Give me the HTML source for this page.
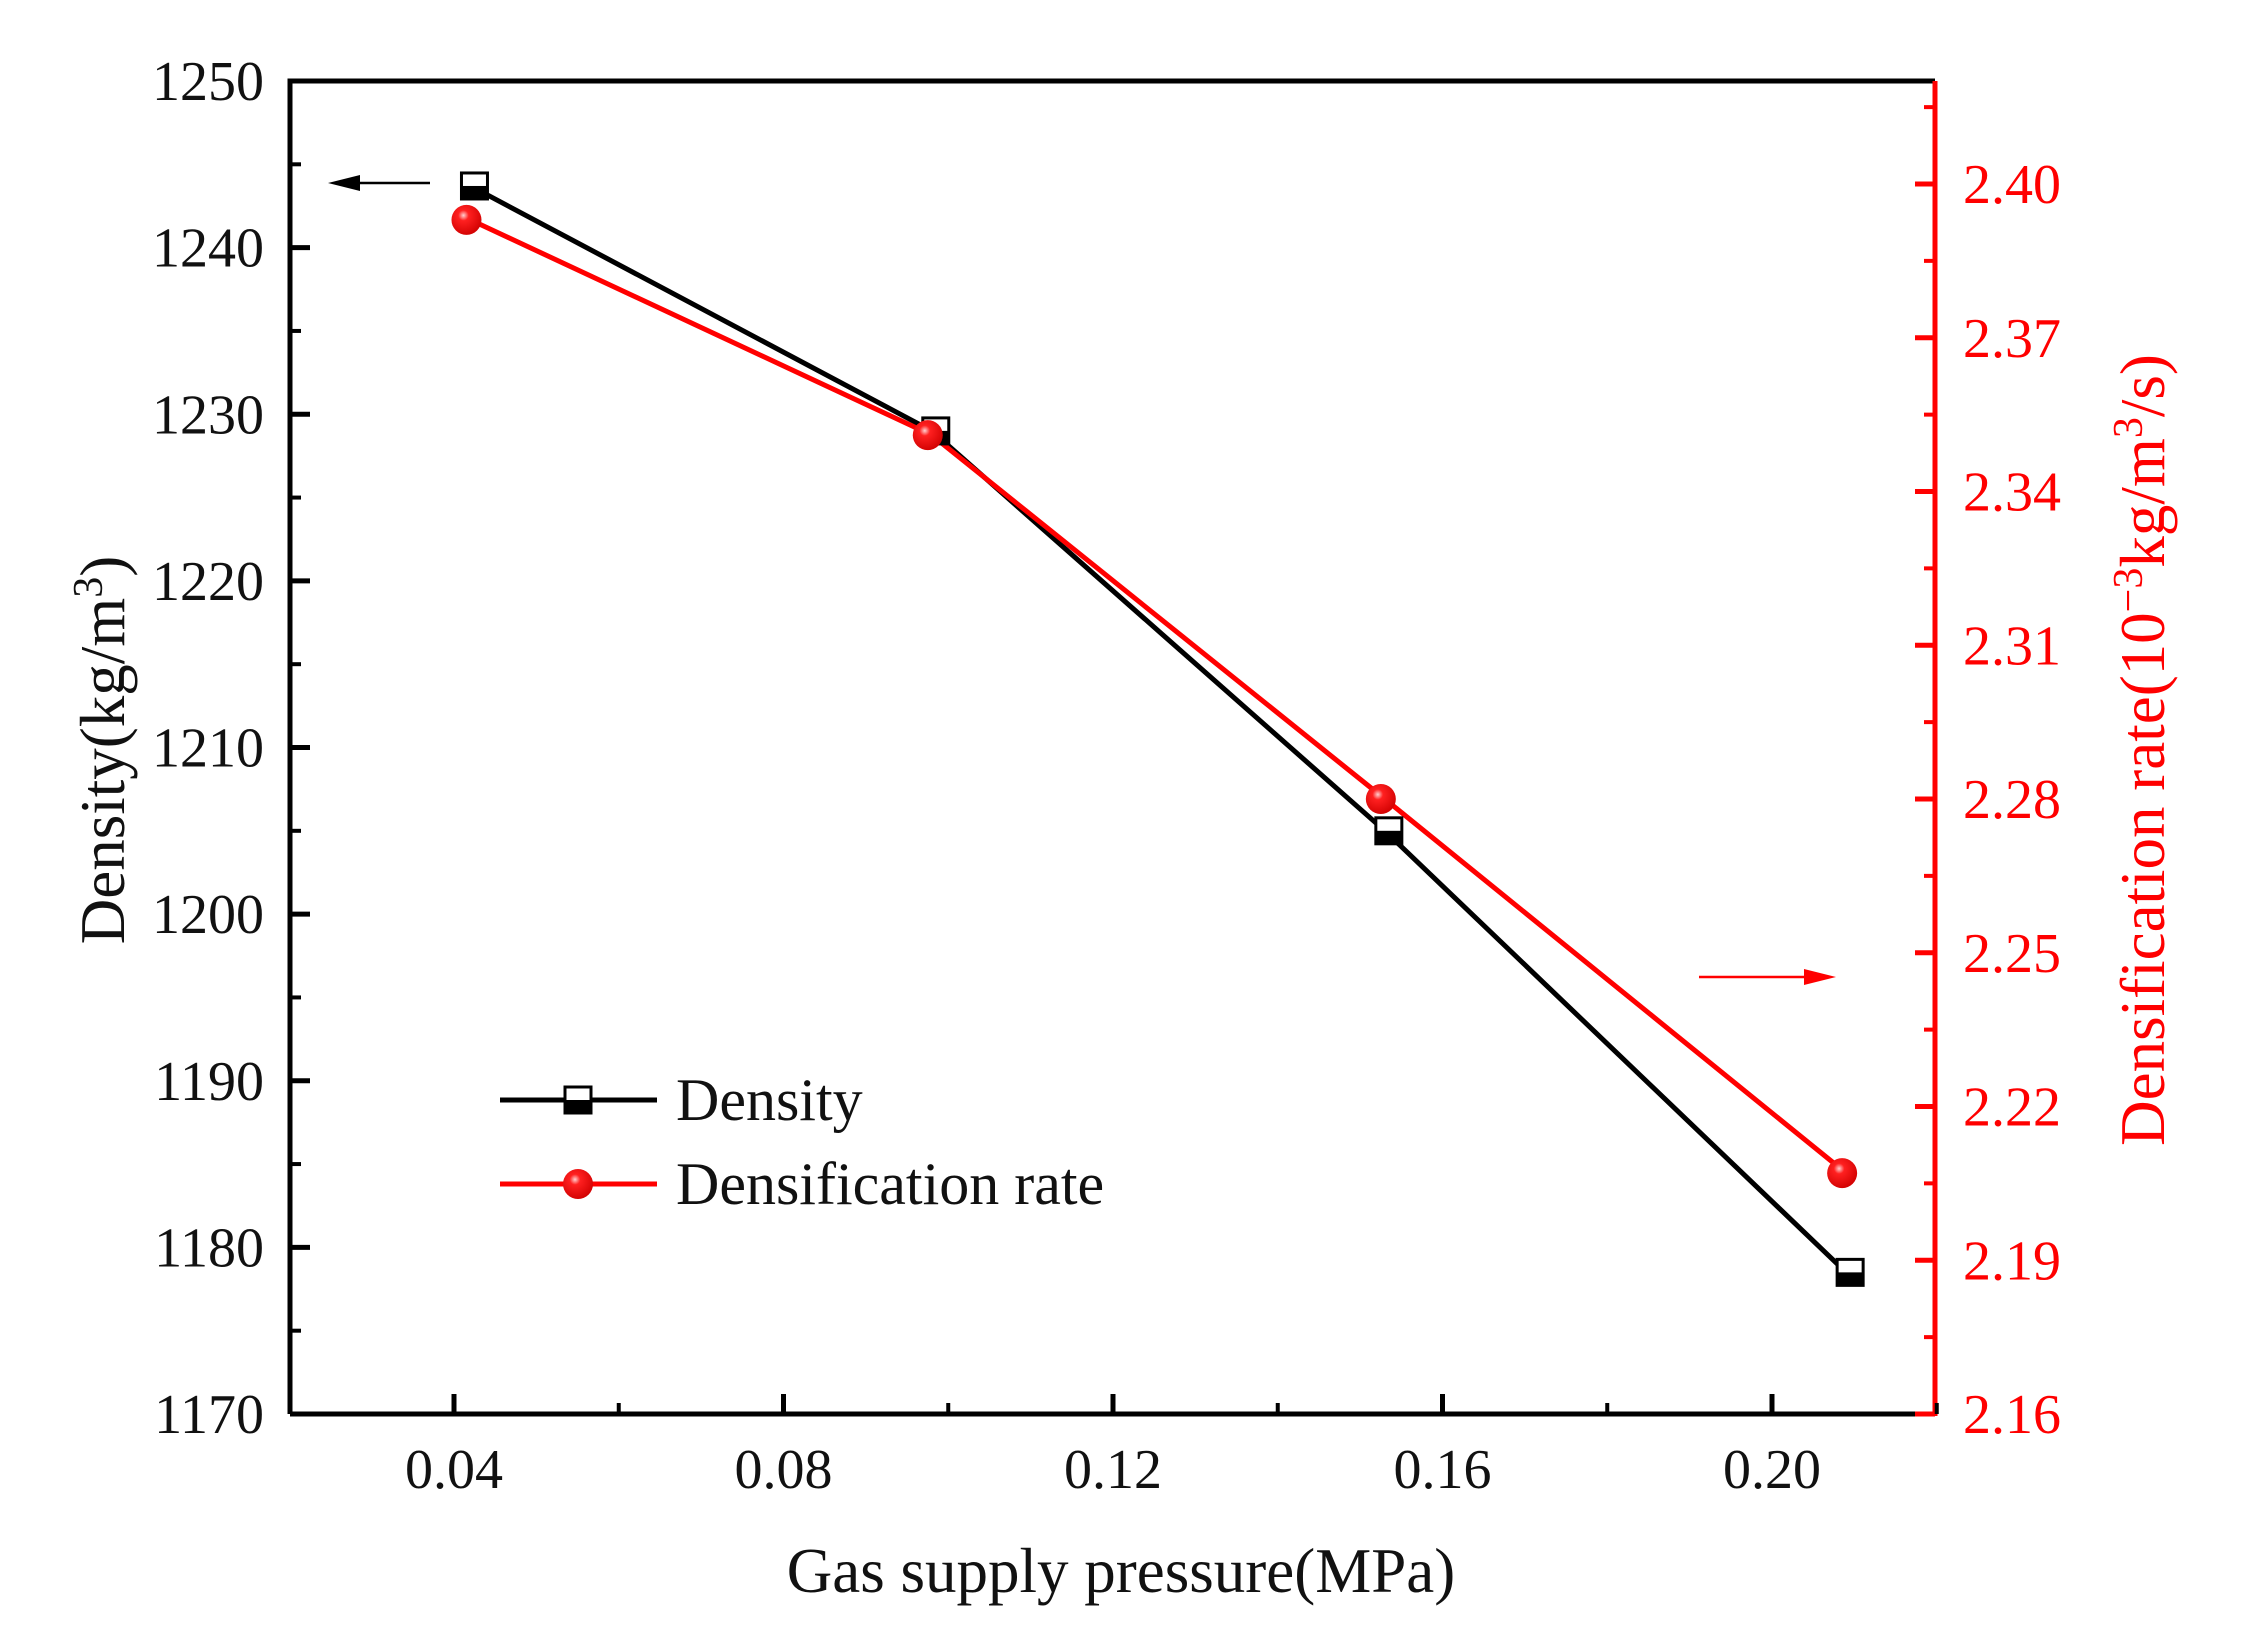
<!DOCTYPE html>
<html><head><meta charset="utf-8"><style>
html,body{margin:0;padding:0;background:#fff}
svg{display:block}
text{font-family:"Liberation Serif",serif}
</style></head><body>
<svg id="chart" width="2243" height="1652" viewBox="0 0 2243 1652" xmlns="http://www.w3.org/2000/svg">
<defs>
<radialGradient id="ball" cx="0.4" cy="0.35" r="0.7">
<stop offset="0" stop-color="#ffd0d0"/><stop offset="0.25" stop-color="#ff2020"/><stop offset="1" stop-color="#d00000"/>
</radialGradient>
</defs>
<g id="axes"></g>
<g id="series"></g>
<g id="legend"></g>
</svg>
<script>
const xValues = [0.042, 0.098, 0.153, 0.209];
const densityValues = [1243.7, 1229.0, 1205.0, 1178.5];
const rateValues = [2.393, 2.351, 2.280, 2.207];
const xTicks = [0.04, 0.08, 0.12, 0.16, 0.20];
const xTickLabels = ["0.04", "0.08", "0.12", "0.16", "0.20"];
const yLeftTicks = [1170, 1180, 1190, 1200, 1210, 1220, 1230, 1240, 1250];
const yRightTicks = [2.16, 2.19, 2.22, 2.25, 2.28, 2.31, 2.34, 2.37, 2.40];
const yRightTickLabels = ["2.16", "2.19", "2.22", "2.25", "2.28", "2.31", "2.34", "2.37", "2.40"];

const NS = "http://www.w3.org/2000/svg";
const L = 290, R = 1935, T = 81, B = 1414;
function xs(v){ return 454 + (v - 0.04) / 0.16 * (1772 - 454); }
function yl(v){ return B - (v - 1170) / 80 * (B - T); }
function yr(v){ return 1414 - (v - 2.16) / 0.24 * (1414 - 184); }
function mk(tag, attrs, parent){
  const e = document.createElementNS(NS, tag);
  for (const k in attrs) e.setAttribute(k, attrs[k]);
  parent.appendChild(e);
  return e;
}
const axes = document.getElementById('axes');
const series = document.getElementById('series');
const legend = document.getElementById('legend');

let e = mk('path', {d:`M${L},${B} L${L},${T} L${R},${T}`, fill:'none', stroke:'#000', 'stroke-width':5}, axes);


e = mk('line', {x1:L, y1:B, x2:R, y2:B, stroke:'#000', 'stroke-width':5}, axes);


e = mk('line', {x1:R, y1:T, x2:R, y2:B+2, stroke:'#f00', 'stroke-width':5}, axes);



yLeftTicks.forEach((v, i) => {
  const y = yl(v);
  const t = mk('line', {x1:L, y1:y, x2:L+20, y2:y, stroke:'#000', 'stroke-width':5}, axes);
  
  
  if (i < yLeftTicks.length - 1) {
    const m = mk('line', {x1:L, y1:yl(v+5), x2:L+11, y2:yl(v+5), stroke:'#000', 'stroke-width':4}, axes);
    
    
  }
  const lb = mk('text', {x:264, y:y+19, 'text-anchor':'end', 'font-size':56, fill:'#111'}, axes);
  lb.textContent = String(v);
  
  
});
yRightTicks.forEach((v, i) => {
  const y = yr(v);
  const t = mk('line', {x1:R, y1:y, x2:R-20, y2:y, stroke:'#f00', 'stroke-width':5}, axes);
  
  
  const m = mk('line', {x1:R, y1:yr(v+0.015), x2:R-11, y2:yr(v+0.015), stroke:'#f00', 'stroke-width':4}, axes);
  
  
  const lb = mk('text', {x:1963, y:y+19, 'font-size':56, fill:'#f00'}, axes);
  lb.textContent = yRightTickLabels[i];
  
  
});
xTicks.forEach((v, i) => {
  const x = xs(v);
  const t = mk('line', {x1:x, y1:B, x2:x, y2:B-20, stroke:'#000', 'stroke-width':5}, axes);
  
  
  const m = mk('line', {x1:xs(v+0.02), y1:B, x2:xs(v+0.02), y2:B-11, stroke:'#000', 'stroke-width':4}, axes);
  
  
  const lb = mk('text', {x:x, y:1488, 'text-anchor':'middle', 'font-size':56, fill:'#111'}, axes);
  lb.textContent = xTickLabels[i];
  
  
});
e = mk('text', {x:1121, y:1592, 'text-anchor':'middle', 'font-size':63, fill:'#111'}, axes);
e.textContent = 'Gas supply pressure(MPa)';


e = mk('text', {x:0, y:0, 'text-anchor':'middle', 'font-size':63, fill:'#111', transform:'translate(124,750) rotate(-90)'}, axes);
e.innerHTML = 'Density(kg/m<tspan dy="-22" font-size="42">3</tspan><tspan dy="22">)</tspan>';


e = mk('text', {x:0, y:0, 'text-anchor':'middle', 'font-size':63, fill:'#f00', transform:'translate(2164,750) rotate(-90)'}, axes);
e.innerHTML = 'Densification rate(10<tspan dy="-22" font-size="42">−3</tspan><tspan dy="22">kg/m</tspan><tspan dy="-22" font-size="42">3</tspan><tspan dy="22">/s)</tspan>';



e = mk('line', {x1:430, y1:183, x2:350, y2:183, stroke:'#000', 'stroke-width':2.5}, axes);


e = mk('polygon', {points:'328,183 360,175 360,191', fill:'#000'}, axes);


e = mk('line', {x1:1699, y1:977, x2:1810, y2:977, stroke:'#f00', 'stroke-width':2.5}, axes);


e = mk('polygon', {points:'1836,977 1804,969 1804,985', fill:'#f00'}, axes);



function square(x, y, parent, name){
  const g = mk('g', {}, parent);
  
  
  mk('rect', {x:x-13, y:y-13, width:26, height:26, fill:'#fff', stroke:'#000', 'stroke-width':3}, g);
  mk('rect', {x:x-13, y:y, width:26, height:13, fill:'#000'}, g);
  return g;
}
function ball(x, y, parent, name){
  const c = mk('circle', {cx:x, cy:y, r:15, fill:'url(#ball)'}, parent);
  
  
  return c;
}
let p = xValues.map((v, i) => `${xs(v)},${yl(densityValues[i])}`).join(' ');
e = mk('polyline', {points:p, fill:'none', stroke:'#000', 'stroke-width':5}, series);


p = xValues.map((v, i) => `${xs(v)},${yr(rateValues[i])}`).join(' ');
e = mk('polyline', {points:p, fill:'none', stroke:'#f00', 'stroke-width':5}, series);


xValues.forEach((v, i) => {
  square(xs(v) + 4, yl(densityValues[i]), series, 'density-point');
  ball(xs(v) - 4, yr(rateValues[i]), series, 'densification-rate-point');
});

e = mk('line', {x1:500, y1:1100, x2:657, y2:1100, stroke:'#000', 'stroke-width':5}, legend);


square(578, 1100, legend, 'legend-density-marker');
e = mk('text', {x:676, y:1120, 'font-size':60, fill:'#111'}, legend);
e.textContent = 'Density';


e = mk('line', {x1:500, y1:1184, x2:657, y2:1184, stroke:'#f00', 'stroke-width':5}, legend);


ball(578, 1184, legend, 'legend-rate-marker');
e = mk('text', {x:676, y:1204, 'font-size':60, fill:'#111'}, legend);
e.textContent = 'Densification rate';


</script>
</body></html>
